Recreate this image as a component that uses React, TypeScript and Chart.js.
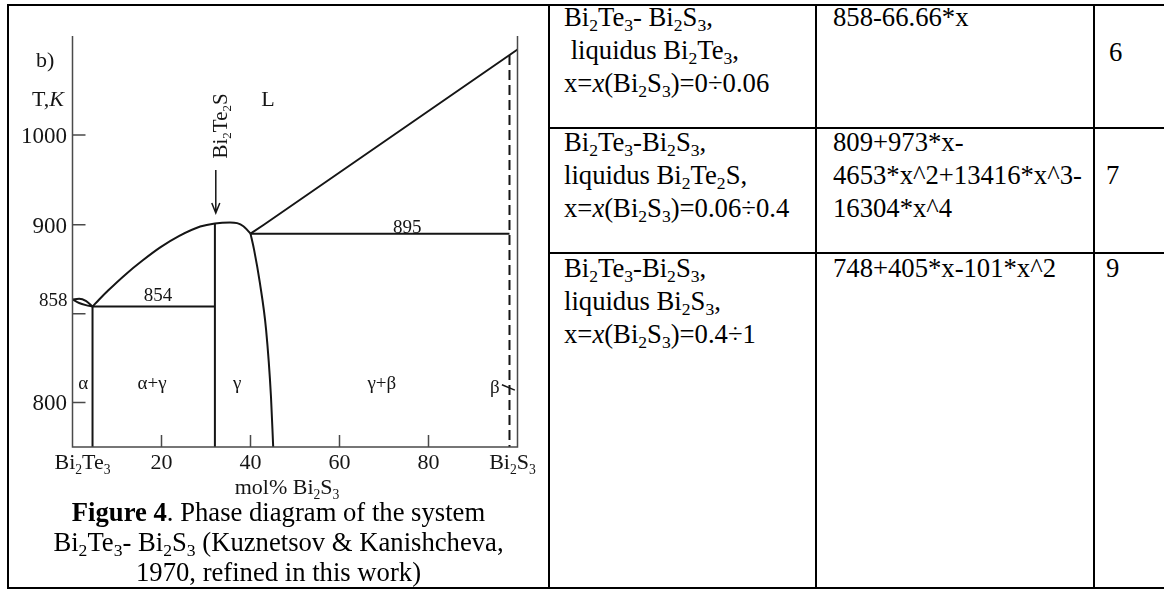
import React, { useEffect, useRef } from 'react';
import { Chart, LinearScale, registerables } from 'chart.js';

// ---------------- data (mol% Bi2S3, T in K) ----------------
const xTickValues = [0, 20, 40, 60, 80, 100];
const xTickLabels = ['Bi_2Te_3', '20', '40', '60', '80', 'Bi_2S_3'];
const xTickMarks = [20, 40, 60, 80];
const yTickValues = [800, 850, 900, 1000];
const yTickLabels = ['800', '', '900', '1000'];

const lensUpperX = [0, 1.5, 3, 4.5];
const lensUpperT = [858, 858.4, 857.2, 854];
const lensLowerX = [0, 1.5, 3, 4.5];
const lensLowerT = [858, 856.0, 854.8, 854];

const liqBi2Te2SX = [4.5, 6.0, 8.0, 11.8, 15.8, 19.8, 23.9, 28.7, 32.0, 35.4, 37.0, 38.4, 39.3, 40.0];
const liqBi2Te2ST = [854, 858.0, 863.0, 871.8, 880.0, 887.4, 893.6, 899.0, 901.5, 902.6, 901.8, 899.2, 897.0, 895];

const gammaBoundX = [40.0, 40.8, 42.1, 43.5, 44.6, 45.1];
const gammaBoundT = [895, 886, 867.4, 841, 803.4, 775];

const liqBi2S3X = [40, 43.0, 100];
const liqBi2S3T = [895, 900, 1095];

const eutecticX = [4.5, 32];
const eutecticT = [854, 854];
const peritecticX = [40, 98.2];
const peritecticT = [895, 895];

const compoundX = [32, 32];
const compoundT = [901.5, 775];
const alphaSolvusX = [4.5, 4.5];
const alphaSolvusT = [854, 775];
const betaSolvusX = [98.2, 98.2];
const betaSolvusT = [1089, 775];
const betaTickX = [96.5, 99.4];
const betaTickT = [810, 807];

const arrowX = 32.2;
const arrowFromT = 961;
const arrowToT = 913;

const regionLabels = ['α', 'α+γ', 'γ', 'γ+β', 'β'];
const regionLabelX = [2.4, 17.9, 37.0, 69.5, 94.9];
const regionLabelT = [811, 811, 811, 811, 809];

const valueLabels = ['854', '895'];
const valueLabelX = [19.2, 75.2];
const valueLabelT = [860.7, 899.0];

const compoundLabel = 'Bi_2Te_2S';
const compoundLabelX = 33.1;
const compoundLabelT = 1010;
const liquidLabel = 'L';
const liquidLabelX = 43.9;
const liquidLabelT = 1041;

const Y_MIN = 775;
const Y_MAX = 1110;

// ---------------- piecewise (broken) temperature scale ----------------
const BREAK_T = 900;
const UPPER_RATIO = 0.5056;

class BrokenLinearScale extends LinearScale {
  static id = 'brokenLinear';
  static defaults = { ...(LinearScale as any).defaults };
  fwd(v: number) {
    return v <= BREAK_T ? v : BREAK_T + (v - BREAK_T) * UPPER_RATIO;
  }
  inv(u: number) {
    return u <= BREAK_T ? u : BREAK_T + (u - BREAK_T) / UPPER_RATIO;
  }
  getPixelForValue(value: number) {
    if (value === null || value === undefined || isNaN(value)) return NaN;
    const a = this.fwd((this as any).min);
    const b = this.fwd((this as any).max);
    return (this as any).getPixelForDecimal((this.fwd(value) - a) / (b - a));
  }
  getValueForPixel(pixel: number) {
    const a = this.fwd((this as any).min);
    const b = this.fwd((this as any).max);
    return this.inv(a + (this as any).getDecimalForPixel(pixel) * (b - a));
  }
}

Chart.register(...registerables, BrokenLinearScale as any);

// ---------------- styles ----------------
const FONT = '"Liberation Serif", "Times New Roman", serif';
const INK = '#151515';
const AXIS_COLOR = '#4a4a4a';

function fontStr(size: number, italic = false) {
  return `${italic ? 'italic ' : ''}${size}px ${FONT}`;
}

type Seg = { t: string; sub: boolean; it: boolean };
function parseRich(s: string): Seg[] {
  const out: Seg[] = [];
  for (let i = 0; i < s.length; i++) {
    let ch = s[i];
    let sub = false;
    let it = false;
    if (ch === '_' && i + 1 < s.length) {
      sub = true;
      ch = s[++i];
    } else if (ch === '~' && i + 1 < s.length) {
      it = true;
      ch = s[++i];
    }
    const last = out[out.length - 1];
    if (last && last.sub === sub && last.it === it) last.t += ch;
    else out.push({ t: ch, sub, it });
  }
  return out;
}

function drawRich(ctx: CanvasRenderingContext2D, text: string, x: number, yMid: number, size: number, align: 'left' | 'center' | 'right') {
  if (!text) return;
  const segs = parseRich(text);
  const subSize = size * 0.62;
  let total = 0;
  const widths = segs.map((s) => {
    ctx.font = fontStr(s.sub ? subSize : size, s.it);
    const w = ctx.measureText(s.t).width;
    total += w;
    return w;
  });
  let cx = align === 'left' ? x : align === 'right' ? x - total : x - total / 2;
  const base = yMid + size * 0.34;
  ctx.textAlign = 'left';
  ctx.textBaseline = 'alphabetic';
  segs.forEach((s, i) => {
    ctx.font = fontStr(s.sub ? subSize : size, s.it);
    ctx.fillText(s.t, cx, s.sub ? base + size * 0.2 : base);
    cx += widths[i];
  });
}

const X_LABEL_SHIFT: Record<number, number> = { 0: 10, 100: -5 };

const decorPlugin = {
  id: 'phaseDecor',
  afterDatasetsDraw(chart: any) {
    const { ctx, chartArea: a } = chart;
    const xs = chart.scales.x;
    const ys = chart.scales.y;
    ctx.save();
    // axis frame
    ctx.strokeStyle = AXIS_COLOR;
    ctx.lineWidth = 1.5;
    ctx.beginPath();
    ctx.moveTo(a.left, a.top);
    ctx.lineTo(a.left, a.bottom);
    ctx.lineTo(a.right, a.bottom);
    ctx.lineTo(a.right, a.top);
    ctx.stroke();
    // tick marks (inside)
    ctx.beginPath();
    ys.ticks.forEach((t: any) => {
      const py = ys.getPixelForValue(t.value);
      ctx.moveTo(a.left, py);
      ctx.lineTo(a.left + 13, py);
    });
    xs.ticks.forEach((t: any) => {
      if (!xTickMarks.includes(t.value)) return;
      const px = xs.getPixelForValue(t.value);
      ctx.moveTo(px, a.bottom);
      ctx.lineTo(px, a.bottom - 12);
    });
    ctx.stroke();

    ctx.fillStyle = INK;
    // tick labels
    ys.ticks.forEach((t: any, i: number) => {
      drawRich(ctx, yTickLabels[i], a.left - 5.5, ys.getPixelForValue(t.value), 23, 'right');
    });
    xs.ticks.forEach((t: any, i: number) => {
      const px = xs.getPixelForValue(t.value) + (X_LABEL_SHIFT[t.value] || 0);
      drawRich(ctx, xTickLabels[i], px, a.bottom + 15, 22, 'center');
    });
    // melting point of Bi2Te3
    drawRich(ctx, String(lensUpperT[0]), a.left - 5, ys.getPixelForValue(lensUpperT[0]), 19, 'right');
    // axis titles
    drawRich(ctx, 'b)', a.left - 36.5, a.top + 24, 22, 'left');
    drawRich(ctx, 'T,~K', a.left - 40.5, a.top + 63, 22, 'left');
    drawRich(ctx, 'mol% Bi_2S_3', a.left + (a.right - a.left) / 2 - 8, a.bottom + 40, 22, 'center');

    // labels inside the plot
    regionLabels.forEach((s, i) => {
      drawRich(ctx, s, xs.getPixelForValue(regionLabelX[i]), ys.getPixelForValue(regionLabelT[i]), 19, 'center');
    });
    valueLabels.forEach((s, i) => {
      drawRich(ctx, s, xs.getPixelForValue(valueLabelX[i]), ys.getPixelForValue(valueLabelT[i]), 19, 'center');
    });
    drawRich(ctx, liquidLabel, xs.getPixelForValue(liquidLabelX), ys.getPixelForValue(liquidLabelT), 22, 'center');

    // rotated compound label
    ctx.save();
    ctx.translate(xs.getPixelForValue(compoundLabelX), ys.getPixelForValue(compoundLabelT));
    ctx.rotate(-Math.PI / 2);
    drawRich(ctx, compoundLabel, 0, 0, 21, 'center');
    ctx.restore();

    // arrow
    const ax = xs.getPixelForValue(arrowX);
    const ay0 = ys.getPixelForValue(arrowFromT);
    const ay1 = ys.getPixelForValue(arrowToT);
    ctx.strokeStyle = INK;
    ctx.lineWidth = 1.5;
    ctx.beginPath();
    ctx.moveTo(ax, ay0);
    ctx.lineTo(ax, ay1);
    ctx.moveTo(ax - 4, ay1 - 10);
    ctx.lineTo(ax, ay1);
    ctx.lineTo(ax + 4, ay1 - 10);
    ctx.stroke();
    ctx.restore();
  },
};

function zip(xs: number[], ys: number[]) {
  return xs.map((x, i) => ({ x, y: ys[i] }));
}

function lineSet(xs: number[], ys: number[], extra: any = {}) {
  return {
    data: zip(xs, ys),
    showLine: true,
    borderColor: INK,
    borderWidth: 2,
    pointRadius: 0,
    pointHoverRadius: 0,
    fill: false,
    clip: false,
    ...extra,
  };
}

function PhaseChart() {
  const ref = useRef<HTMLCanvasElement | null>(null);
  useEffect(() => {
    if (!ref.current) return;
    const smooth = { cubicInterpolationMode: 'monotone' };
    const chart = new Chart(ref.current, {
      type: 'scatter',
      data: {
        datasets: [
          lineSet(lensUpperX, lensUpperT, smooth),
          lineSet(lensLowerX, lensLowerT, smooth),
          lineSet(liqBi2Te2SX, liqBi2Te2ST, smooth),
          lineSet(gammaBoundX, gammaBoundT, smooth),
          lineSet(liqBi2S3X, liqBi2S3T),
          lineSet(eutecticX, eutecticT),
          lineSet(peritecticX, peritecticT),
          lineSet(compoundX, compoundT),
          lineSet(alphaSolvusX, alphaSolvusT),
          lineSet(betaSolvusX, betaSolvusT, { borderDash: [10, 5] }),
          lineSet(betaTickX, betaTickT, { borderWidth: 1.5 }),
        ] as any,
      },
      options: {
        animation: false,
        responsive: false,
        maintainAspectRatio: false,
        devicePixelRatio: 1,
        events: [],
        layout: { padding: { left: 63.5, right: 30.5, top: 30, bottom: 59 } },
        plugins: { legend: { display: false }, tooltip: { enabled: false } },
        scales: {
          x: {
            type: 'linear',
            min: 0,
            max: 100,
            display: false,
            afterBuildTicks: (s: any) => {
              s.ticks = xTickValues.map((v) => ({ value: v }));
            },
          },
          y: {
            type: 'brokenLinear',
            min: Y_MIN,
            max: Y_MAX,
            display: false,
            afterBuildTicks: (s: any) => {
              s.ticks = yTickValues.map((v) => ({ value: v }));
            },
          },
        } as any,
      },
      plugins: [decorPlugin],
    } as any);
    return () => chart.destroy();
  }, []);
  return (
    <canvas
      ref={ref}
      width={539}
      height={500}
      style={{ position: 'absolute', left: 9, top: 6, width: 539, height: 500 }}
    />
  );
}

// ---------------- table ----------------
const SUB: React.CSSProperties = { fontSize: '0.66em', verticalAlign: '-0.28em', lineHeight: 0 };
const s = (c: string) => <sub style={SUB}>{c}</sub>;
const LH = 33;
const TXT: React.CSSProperties = {
  position: 'absolute',
  fontSize: 26.67,
  lineHeight: `${LH}px`,
  whiteSpace: 'nowrap',
  color: '#000',
};

function Lines({ left, top, lines }: { left: number; top: number; lines: React.ReactNode[] }) {
  return (
    <>
      {lines.map((ln, i) => (
        <div key={i} style={{ ...TXT, left, top: top + i * LH }}>
          {ln}
        </div>
      ))}
    </>
  );
}

const HL = (top: number, left = 7, right = 1164): React.CSSProperties => ({
  position: 'absolute',
  left,
  top,
  width: right - left,
  height: 2,
  background: '#000',
});
const VL = (left: number, top = 4, bottom = 589): React.CSSProperties => ({
  position: 'absolute',
  left,
  top,
  width: 2,
  height: bottom - top,
  background: '#000',
});

const COL1 = 564;
const COL2 = 833;
const COL3 = 1106;
const ROW1 = 1;
const ROW2 = 125.5;
const ROW3 = 252;

export default function App() {
  return (
    <div
      style={{
        position: 'absolute',
        left: 0,
        top: 0,
        width: 1164,
        height: 590,
        background: '#fff',
        overflow: 'hidden',
        fontFamily: FONT,
      }}
    >
      {/* borders */}
      <div style={HL(4)} />
      <div style={HL(587)} />
      <div style={VL(7)} />
      <div style={VL(548)} />
      <div style={VL(815)} />
      <div style={VL(1093)} />
      <div style={HL(127, 549)} />
      <div style={HL(252, 549)} />

      <PhaseChart />

      {/* caption */}
      <div
        style={{
          position: 'absolute',
          left: 9,
          top: 497,
          width: 539,
          textAlign: 'center',
          fontSize: 26.67,
          lineHeight: '30px',
          whiteSpace: 'nowrap',
          color: '#000',
        }}
      >
        <div>
          <b>Figure 4</b>. Phase diagram of the system
        </div>
        <div>
          Bi{s('2')}Te{s('3')}- Bi{s('2')}S{s('3')} (Kuznetsov &amp; Kanishcheva,
        </div>
        <div>1970, refined in this work)</div>
      </div>

      {/* row 1 */}
      <Lines
        left={COL1}
        top={ROW1}
        lines={[
          <>Bi{s('2')}Te{s('3')}- Bi{s('2')}S{s('3')},</>,
          <>{'\u00a0'}liquidus Bi{s('2')}Te{s('3')},</>,
          <>x=<i>x</i>(Bi{s('2')}S{s('3')})=0÷0.06</>,
        ]}
      />
      <Lines left={COL2} top={ROW1} lines={['858-66.66*x']} />
      <Lines left={COL3 + 3} top={ROW1 + LH + 2} lines={['6']} />

      {/* row 2 */}
      <Lines
        left={COL1}
        top={ROW2}
        lines={[
          <>Bi{s('2')}Te{s('3')}-Bi{s('2')}S{s('3')},</>,
          <>liquidus Bi{s('2')}Te{s('2')}S,</>,
          <>x=<i>x</i>(Bi{s('2')}S{s('3')})=0.06÷0.4</>,
        ]}
      />
      <Lines left={COL2} top={ROW2} lines={['809+973*x-', '4653*x^2+13416*x^3-', '16304*x^4']} />
      <Lines left={COL3} top={ROW2 + LH} lines={['7']} />

      {/* row 3 */}
      <Lines
        left={COL1}
        top={ROW3}
        lines={[
          <>Bi{s('2')}Te{s('3')}-Bi{s('2')}S{s('3')},</>,
          <>liquidus Bi{s('2')}S{s('3')},</>,
          <>x=<i>x</i>(Bi{s('2')}S{s('3')})=0.4÷1</>,
        ]}
      />
      <Lines left={COL2} top={ROW3} lines={['748+405*x-101*x^2']} />
      <Lines left={COL3} top={ROW3} lines={['9']} />
    </div>
  );
}
